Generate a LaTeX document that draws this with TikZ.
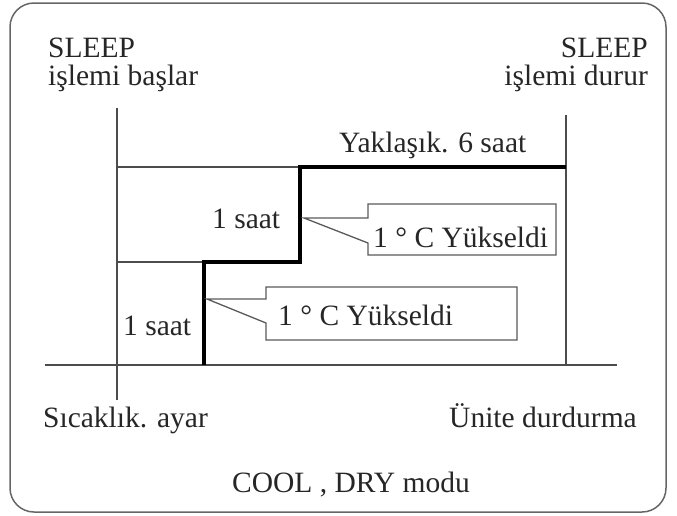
\documentclass[tikz,border=0pt]{standalone}
\usepackage{fontspec}
\setmainfont{Liberation Serif}
\begin{document}
\begin{tikzpicture}[x=1pt,y=-1pt,
  txt/.style={inner sep=0pt,font=\fontsize{29.5}{35}\selectfont,text=black!85},
  thin/.style={draw=black!70,line width=1.3pt},
  thick/.style={draw=black,line width=3.6pt},
  callout/.style={draw=black!65,line width=1.3pt,line join=miter}]
\useasboundingbox (0,0) rectangle (677,515);
\draw[draw=black!60,line width=1.5pt,rounded corners=24pt] (10,3) rectangle (666,512);
% axes
\coordinate (L1) at (117,108); \coordinate (L2) at (117,400);
\coordinate (R1) at (566,115); \coordinate (R2) at (566,365);
\coordinate (A1) at (45,365); \coordinate (A2) at (617,365);
\draw[thin] (L1) -- (L2);
\draw[thin] (R1) -- (R2);
\draw[thin] (A1) -- (A2);
\coordinate (T0) at (117,167); \coordinate (T1) at (300,167); \coordinate (T2) at (566,167);
\coordinate (M0) at (117,262); \coordinate (M1) at (204,262); \coordinate (M2) at (300,262);
\coordinate (B1) at (204,365);
\draw[thin] (T0) -- (T1);
\draw[thin] (M0) -- (M1);
\draw[thick,line join=miter] (B1) -- (M1) -- (M2) -- (T1) -- (T2);
% callouts
\coordinate (tipU) at (304,218);
\coordinate (tipD) at (207,299);
\draw[callout] (tipU) -- (368,218) -- (368,204) -- (556,204) -- (556,255) -- (368,255) -- (368,243) -- cycle;
\draw[callout] (tipD) -- (266,299) -- (266,287) -- (517,287) -- (517,340) -- (266,340) -- (266,323) -- cycle;
% texts
\node[txt,anchor=base west] (s1) at (48,57) {SLEEP};
\node[txt,anchor=base west] (s2) at (48,85) {işlemi başlar};
\node[txt,anchor=base east] (e1) at (648,57) {SLEEP};
\node[txt,anchor=base east] (e2) at (648,85) {işlemi durur};
\node[txt,anchor=base west] (yak) at (339,152) {Yaklaşık. 6 saat};
\node[txt,anchor=base west] (h1) at (212,228) {1 saat};
\node[txt,anchor=base west] (h2) at (123,335) {1 saat};
\node[txt,anchor=base west] (c1) at (373,247) {1 ° C Yükseldi};
\node[txt,anchor=base west] (c2) at (278,325) {1 ° C Yükseldi};
\node[txt,anchor=base west] (sic) at (43,427) {Sıcaklık. ayar};
\node[txt,anchor=base east] (uni) at (637,427) {Ünite durdurma};
\node[txt,anchor=base] (mod) at (351,492) {COOL , DRY modu};
\end{tikzpicture}
\end{document}
